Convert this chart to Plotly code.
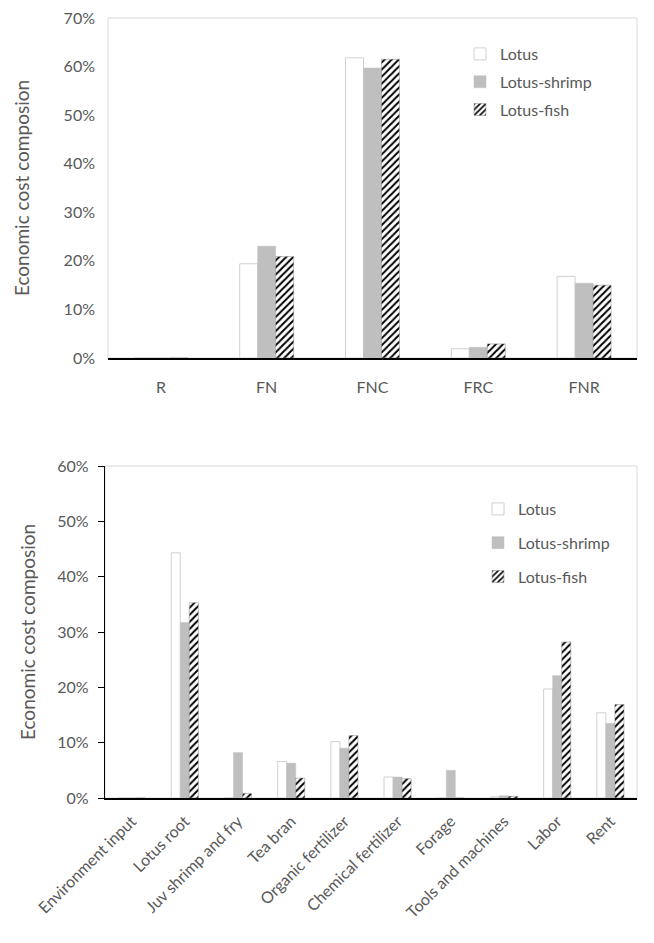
import plotly.graph_objects as go

# ---------------- data ----------------
series = ["Lotus", "Lotus-shrimp", "Lotus-fish"]

top_categories = ["R", "FN", "FNC", "FRC", "FNR"]
top_lotus = [0.0, 0.194, 0.618, 0.019, 0.168]
top_shrimp = [0.0, 0.230, 0.597, 0.022, 0.154]
top_fish = [0.0, 0.209, 0.615, 0.029, 0.150]

bot_categories = ["Environment input", "Lotus root", "Juv shrimp and fry", "Tea bran",
                  "Organic fertilizer", "Chemical fertilizer", "Forage",
                  "Tools and machines", "Labor", "Rent"]
bot_lotus = [0.0, 0.443, 0.0, 0.066, 0.102, 0.038, 0.0, 0.002, 0.197, 0.154]
bot_shrimp = [0.0, 0.317, 0.082, 0.063, 0.090, 0.038, 0.050, 0.004, 0.221, 0.135]
bot_fish = [0.0, 0.353, 0.008, 0.036, 0.113, 0.035, 0.0, 0.003, 0.282, 0.169]

y_title = "Economic cost composion"

# ---------------- styles ----------------
OFF = 8                      # page body margin
W, H = 654 - OFF, 943 - OFF
FONT = "Lato"
TXT = "#595959"
GRID = "#d9d9d9"
GRAY = "#bfbfbf"

styles = {
    "Lotus": dict(color="white", line=dict(color="#d0d0d0", width=1)),
    "Lotus-shrimp": dict(color=GRAY, line=dict(color=GRAY, width=0.5)),
    "Lotus-fish": dict(color="white",
                       pattern=dict(shape="/", fgcolor="black", bgcolor="white",
                                    size=5, solidity=0.4, fgopacity=1),
                       line=dict(color="#888888", width=0.5)),
}

fig = go.Figure()

top_vals = {"Lotus": top_lotus, "Lotus-shrimp": top_shrimp, "Lotus-fish": top_fish}
bot_vals = {"Lotus": bot_lotus, "Lotus-shrimp": bot_shrimp, "Lotus-fish": bot_fish}

for s in series:
    fig.add_trace(go.Bar(x=top_categories, y=top_vals[s], name=s, marker=styles[s],
                         xaxis="x", yaxis="y", legend="legend", legendgroup="t" + s))
for s in series:
    fig.add_trace(go.Bar(x=bot_categories, y=bot_vals[s], name=s, marker=styles[s],
                         xaxis="x2", yaxis="y2", legend="legend2", legendgroup="b" + s))

def px_x(v):
    return (v - OFF) / W

def px_y(v):
    return 1 - (v - OFF) / H

tickfont = dict(family=FONT, size=16, color=TXT)

fig.update_layout(
    width=W, height=H,
    margin=dict(l=0, r=0, t=0, b=0),
    paper_bgcolor="white", plot_bgcolor="white",
    barmode="group",
    bargap=0.49, bargroupgap=0.0,
    font=dict(family=FONT, color=TXT),
    xaxis=dict(domain=[px_x(108), px_x(637)], anchor="y", automargin=False,
               showline=True, linecolor="black", linewidth=1.5,
               showgrid=False, ticks="", tickfont=tickfont, ticklabelstandoff=14),
    yaxis=dict(domain=[px_y(358), px_y(18)], anchor="x", automargin=False,
               range=[0, 0.7], dtick=0.1, tickformat=".0%",
               showgrid=False, zeroline=False, showline=False,
               tickfont=tickfont, ticklabelstandoff=12, ticklabeloverflow="allow",
               title=dict(text=y_title, font=dict(family=FONT, size=19, color=TXT), standoff=28)),
    xaxis2=dict(domain=[px_x(105), px_x(637)], anchor="y2", automargin=False,
                showline=True, linecolor="black", linewidth=1.5,
                showgrid=False, ticks="", tickangle=-45,
                tickfont=dict(family=FONT, size=16, color=TXT), ticklabelstandoff=6),
    yaxis2=dict(domain=[px_y(798), px_y(466)], anchor="x2", automargin=False,
                range=[0, 0.6], dtick=0.1, tickformat=".0%",
                showgrid=False, zeroline=False,
                showline=True, linecolor="black", linewidth=1.2,
                ticks="outside", ticklen=6, tickcolor="black",
                tickfont=tickfont, ticklabelstandoff=6, ticklabeloverflow="allow",
                title=dict(text=y_title, font=dict(family=FONT, size=19, color=TXT), standoff=16)),
    legend=dict(x=px_x(460), y=px_y(37), xanchor="left", yanchor="top",
                font=dict(family=FONT, size=16, color=TXT), bgcolor="rgba(0,0,0,0)",
                tracegroupgap=4, traceorder="grouped"),
    legend2=dict(x=px_x(478), y=px_y(492), xanchor="left", yanchor="top",
                 font=dict(family=FONT, size=16, color=TXT), bgcolor="rgba(0,0,0,0)",
                 tracegroupgap=10, traceorder="grouped"),
    shapes=[
        dict(type="rect", xref="x domain", yref="y domain", x0=0, x1=1, y0=0, y1=1,
             line=dict(color=GRID, width=1), layer="below"),
        dict(type="rect", xref="x2 domain", yref="y2 domain", x0=0, x1=1, y0=0, y1=1,
             line=dict(color=GRID, width=1), layer="below"),
    ],
)

fig.write_html("out.html")
